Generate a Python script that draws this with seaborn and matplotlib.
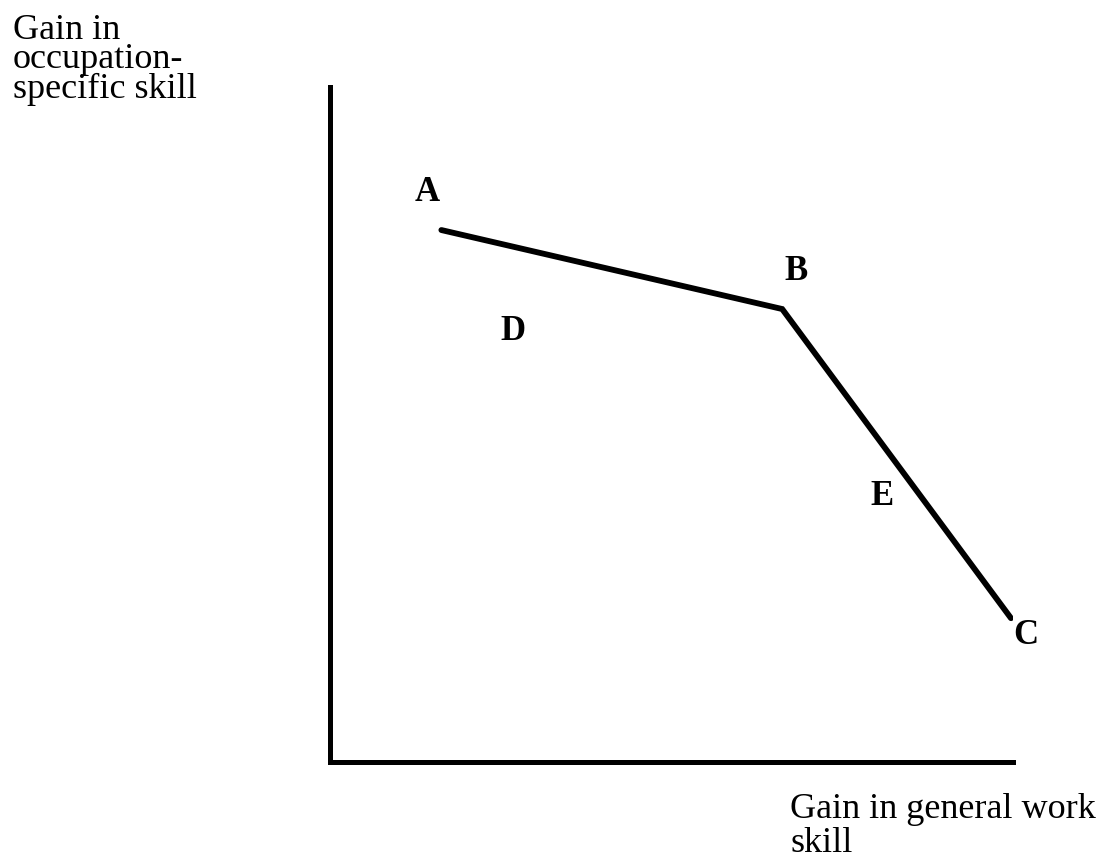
import matplotlib
matplotlib.use("Agg")
import matplotlib.pyplot as plt
import seaborn as sns
import pandas as pd

# kinked frontier A -> B -> C (arbitrary units, axes run 0..100)
point_names = ["A", "B", "C"]
general_skill = [16.3, 66.2, 99.7]
occupation_skill = [78.8, 67.1, 21.3]

# region / point labels
label_text = ["A", "B", "D", "E", "C"]
label_x = [14.2, 68.2, 26.8, 80.8, 101.9]
label_y = [84.4, 72.6, 63.7, 39.3, 18.8]

y_title = "Gain in\noccupation-\nspecific skill"
x_title = "Gain in general work\nskill"

sns.set_style("white")
plt.rcParams["font.family"] = ["Liberation Serif", "DejaVu Serif"]

fig = plt.figure(figsize=(11.12, 8.6), dpi=100)
ax = fig.add_axes([0.2968, 0.114, 0.6142, 0.7849])

df = pd.DataFrame({"x": general_skill, "y": occupation_skill, "pt": point_names})
sns.lineplot(data=df, x="x", y="y", sort=False, ax=ax, color="black",
             linewidth=4.2, solid_capstyle="round", solid_joinstyle="miter")

for t, lx, ly in zip(label_text, label_x, label_y):
    ax.text(lx, ly, t, ha="center", va="center", fontsize=25,
            fontweight="bold", color="black", clip_on=False)

ax.set_xlim(0, 100)
ax.set_ylim(0, 100)
ax.set_xticks([])
ax.set_yticks([])
ax.set_xlabel("")
ax.set_ylabel("")
sns.despine(ax=ax, top=True, right=True)
for side in ["left", "bottom"]:
    ax.spines[side].set_linewidth(3.6)
    ax.spines[side].set_color("black")

# va="baseline" pins the last line's baseline
fig.text(13 / 1112, 1 - 98 / 860, y_title, ha="left", va="baseline",
         fontsize=26, linespacing=0.86, color="black")
fig.text(790 / 1112, 1 - 852 / 860, x_title, ha="left", va="baseline",
         fontsize=26, linespacing=1.05, color="black")

fig.savefig("out.png", dpi=100, facecolor="white")
